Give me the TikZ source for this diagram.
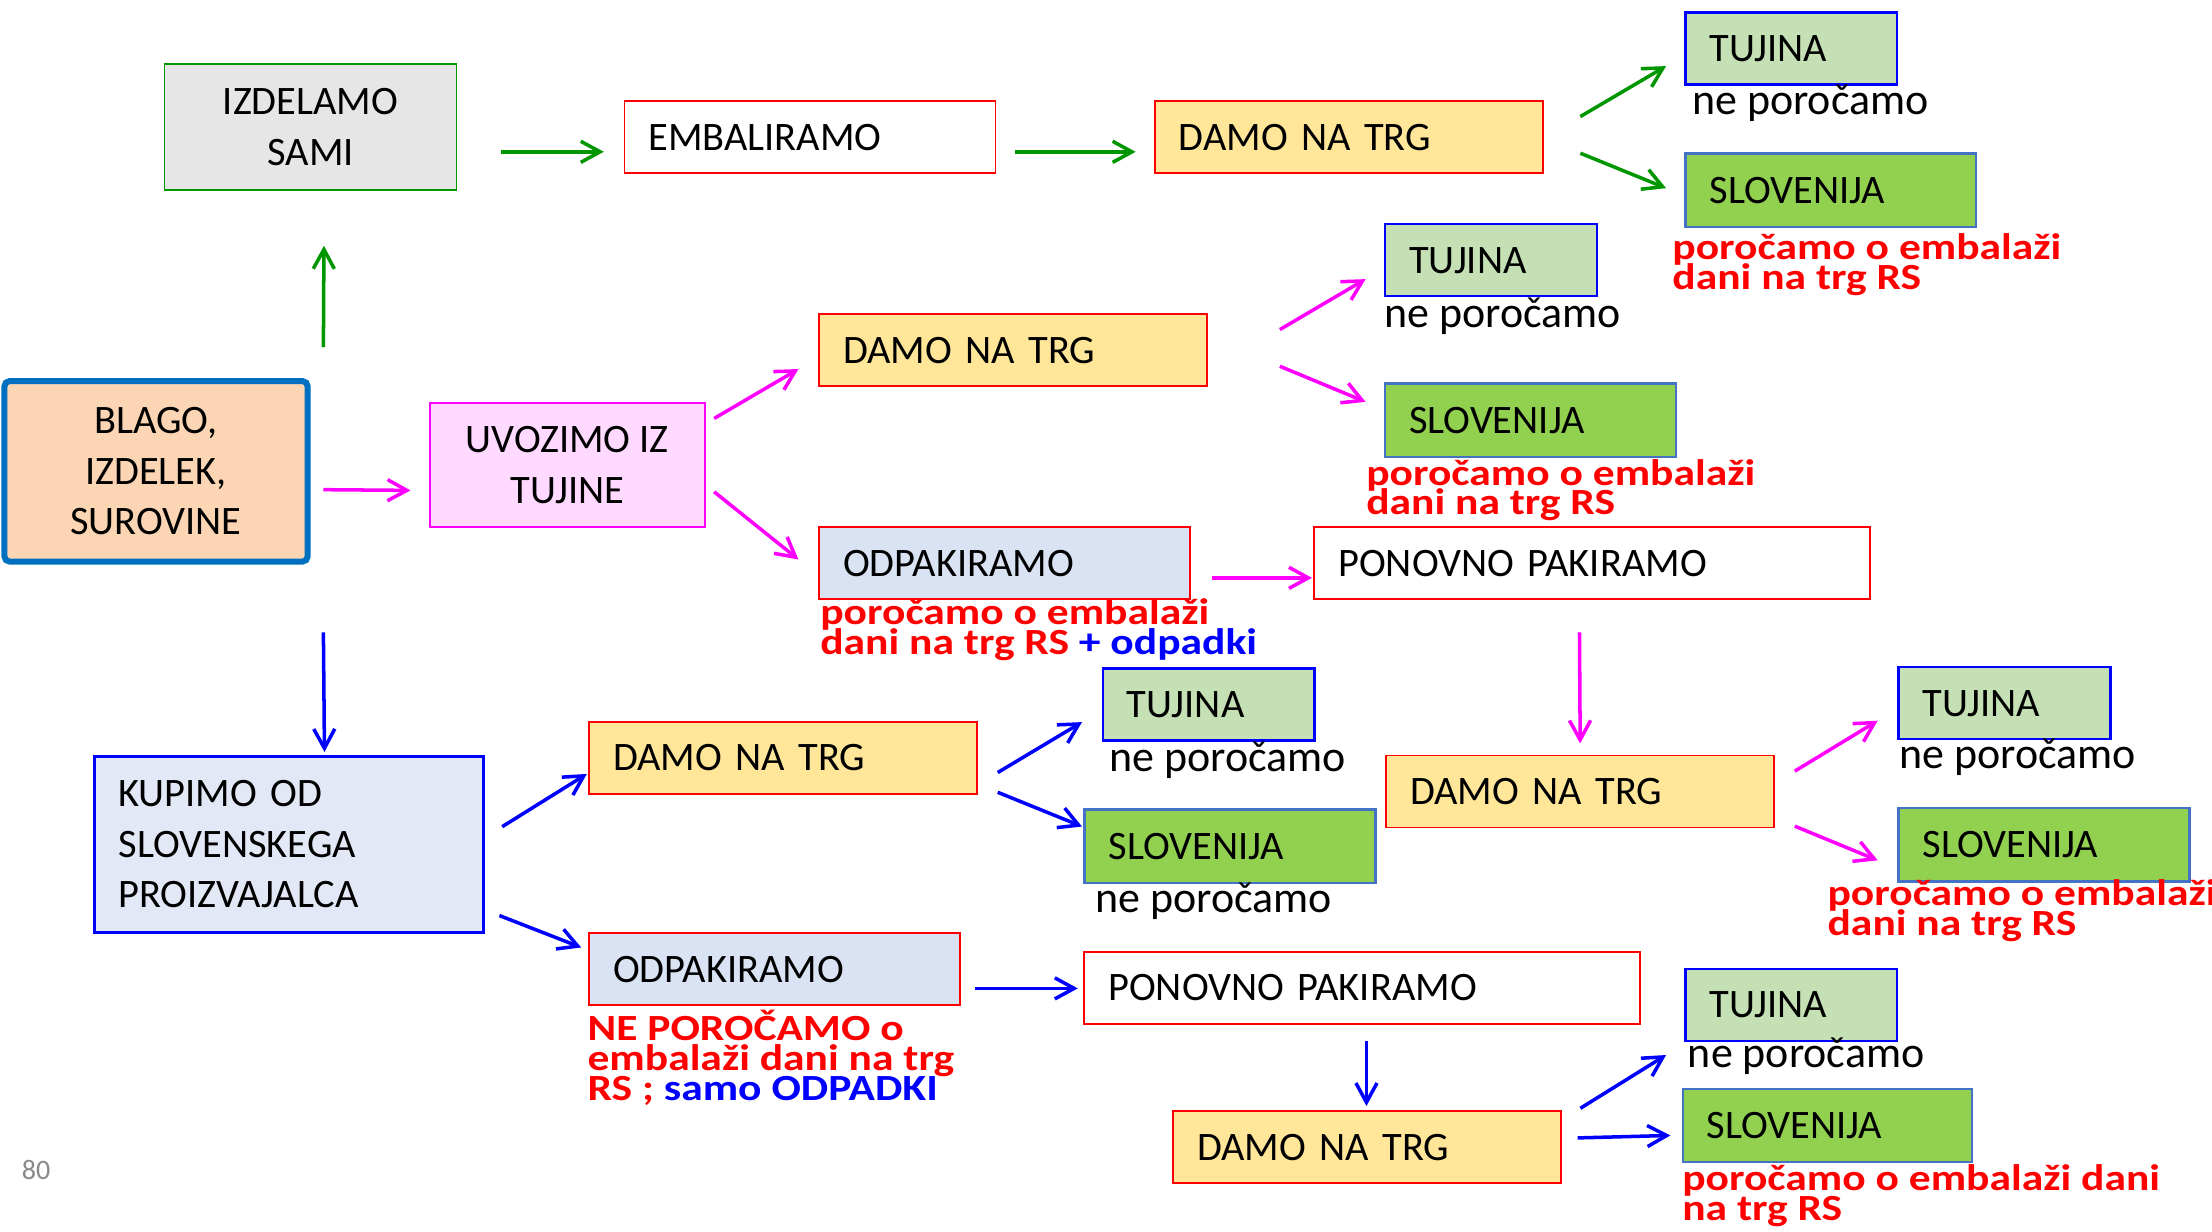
\documentclass[tikz,border=0pt]{standalone}
\usepackage{fontspec}
\setmainfont{Carlito}
\newfontfamily\repfamily[FakeStretch=1.18]{Carlito}
\usetikzlibrary{arrows.meta,calc}
\definecolor{grn}{RGB}{0,150,0}
\definecolor{mag}{RGB}{255,0,255}
\definecolor{blu}{RGB}{0,0,255}
\definecolor{trgfill}{RGB}{255,230,153}
\definecolor{tujfill}{RGB}{197,224,180}
\definecolor{slofill}{RGB}{146,208,80}
\definecolor{sloline}{RGB}{68,114,196}
\definecolor{odpfill}{RGB}{218,227,243}
\definecolor{kupfill}{RGB}{226,232,245}
\definecolor{izdfill}{RGB}{231,230,230}
\definecolor{blagofill}{RGB}{252,213,181}
\definecolor{blagoline}{RGB}{0,112,192}
\definecolor{uvozfill}{RGB}{255,217,255}
\definecolor{pgnum}{RGB}{137,137,137}
\newlength{\pxu}
\setlength{\pxu}{0.14107mm}
\newcommand{\boxfont}{\fontsize{11.5}{14.4}\selectfont}
\newcommand{\nefont}{\fontsize{12.5}{14}\selectfont}
\newcommand{\repfont}{\repfamily\bfseries\fontsize{10.5}{8.5}\selectfont\lineskiplimit=-100pt}

\begin{document}
\begin{tikzpicture}
[x=\pxu, y=-\pxu,
B/.style={draw, rectangle, anchor=north west, inner ysep=0pt, inner xsep=17\pxu, font=\boxfont, line width=0.5pt},
S/.style={B, text height=7.4pt, text depth=0pt, align=left},
trg/.style={S, draw=red, fill=trgfill, text width=241\pxu, minimum height=51\pxu},
tuj/.style={S, draw=blu, fill=tujfill, line width=0.7pt, text width=116\pxu, minimum height=51\pxu},
slo/.style={S, draw=sloline, fill=slofill, line width=0.7pt, text width=172\pxu, minimum height=52\pxu},
odp/.style={S, draw=red, fill=odpfill, text width=229\pxu, minimum height=51\pxu},
pon/.style={S, draw=red, fill=white, text width=360\pxu, minimum height=51\pxu},
ne/.style={anchor=base west, inner sep=0pt, font=\nefont},
rep/.style={anchor=base west, inner sep=0pt, align=left, font=\repfont, text=red},
arr/.style={line width=1pt, -{Straight Barb[length=5.5pt,width=6pt]}},
garr/.style={arr, grn},
marr/.style={arr, mag},
barr/.style={arr, blu}]
\useasboundingbox (0,0) rectangle (1568,873);
%%
%%%%%%%%%%%%%%%%%%
% start
%%%%%%%%%%%%%%%%%%
\node[B, draw=blagoline, fill=blagofill, line width=1.7pt, rounded corners=1.5pt, align=center, minimum width=215\pxu, minimum height=128\pxu] (blago) at (1,268) {BLAGO,\\IZDELEK,\\SUROVINE};
\node[text=pgnum, font=\fontsize{8}{9}\selectfont, anchor=base west, inner sep=0pt] (pg) at (15,836) {80};
%%
%%%%%%%%%%%%%%%%%%
% izdelamo sami
%%%%%%%%%%%%%%%%%%
\node[B, draw=grn, fill=izdfill, align=center, minimum width=207\pxu, minimum height=89\pxu] (izd) at (116,45) {IZDELAMO\\SAMI};
\node[pon, text width=229\pxu] (emb) at (442,71) {EMBALIRAMO};
\node[trg] (trg1) at (818,71) {DAMO NA TRG};
\node[tuj] (tuj1) at (1194,8) {TUJINA};
\node[ne] (n1) at (1199,81) {ne poročamo};
\node[slo] (slo1) at (1194,108) {SLOVENIJA};
\node[rep] (r1) at (1185,205) {poročamo o embalaži\\dani na trg RS};
%%
\draw[garr] ($(blago.north east)+(9,-22)$) -- ($(izd.south)+(9.5,39)$);
\draw[garr] ($(izd.east)+(31,17.5)$) -- ($(emb.west)+(-14,10.5)$);
\draw[garr] ($(emb.east)+(13,10.5)$) -- ($(trg1.west)+(-13,10.5)$);
\draw[garr] ($(trg1.east)+(26,-14.5)$) -- ($(tuj1.west)+(-13,12.5)$);
\draw[garr] ($(trg1.east)+(26,11.5)$) -- ($(slo1.west)+(-13,-1.5)$);
%%
%%%%%%%%%%%%%%%%%%
% uvozimo iz tujine
%%%%%%%%%%%%%%%%%%
\node[B, draw=mag, fill=uvozfill, align=center, minimum width=195\pxu, minimum height=88\pxu] (uvoz) at (304,285) {UVOZIMO IZ\\TUJINE};
%% na trg
\node[trg] (trg2) at (580,222) {DAMO NA TRG};
\node[tuj] (tuj2) at (981,158) {TUJINA};
\node[ne] (n2) at (981,232) {ne poročamo};
\node[slo] (slo2) at (981,271) {SLOVENIJA};
\node[rep] (r2) at (968,365) {poročamo o embalaži\\dani na trg RS};
%% odpakiramo
\node[odp] (odp1) at (580,373) {ODPAKIRAMO};
\node[rep] (r3) at (581,464) {poročamo o embalaži\\dani na trg RS {\color{blu}+ odpadki}};
\node[pon] (pon1) at (931,373) {PONOVNO PAKIRAMO};
\node[trg] (trg3) at (982,535) {DAMO NA TRG};
\node[tuj] (tuj3) at (1345,472) {TUJINA};
\node[ne] (n3) at (1346,545) {ne poročamo};
\node[slo] (slo3) at (1345,572) {SLOVENIJA};
\node[rep] (r4) at (1295,663) {poročamo o embalaži\\dani na trg RS};
%%
\draw[marr] ($(blago.east)+(9,13)$) -- ($(uvoz.west)+(-13,18)$);
\draw[marr] ($(uvoz.east)+(6,-33)$) -- ($(trg2.west)+(-14,13.5)$);
\draw[marr] ($(uvoz.east)+(6,19)$) -- ($(odp1.west)+(-14,-2.5)$);
\draw[marr] ($(trg2.east)+(51,-14.5)$) -- ($(tuj2.west)+(-13,13.5)$);
\draw[marr] ($(trg2.east)+(51,11.5)$) -- ($(slo2.west)+(-13,-13)$);
\draw[marr] ($(odp1.east)+(15,10.5)$) -- ($(pon1.west)+(-1,10.5)$);
\draw[marr] ($(pon1.south)+(-9,23)$) -- ($(trg3.north)+(0,-8)$);
\draw[marr] ($(trg3.east)+(14,-14.5)$) -- ($(tuj3.west)+(-14,12.5)$);
\draw[marr] ($(trg3.east)+(14,24.5)$) -- ($(slo3.west)+(-14,11)$);
%%
%%%%%%%%%%%%%%%%%%
% kupimo od slovenskega proizvajalca
%%%%%%%%%%%%%%%%%%
\node[B, draw=blu, fill=kupfill, line width=0.8pt, align=left, text width=242\pxu, minimum height=125\pxu] (kup) at (66,535) {KUPIMO OD\\SLOVENSKEGA\\PROIZVAJALCA};
%% na trg
\node[trg] (trg4) at (417,511) {DAMO NA TRG};
\node[tuj] (tuj4) at (781,473) {TUJINA};
\node[ne] (n4) at (786,547) {ne poročamo};
\node[slo] (slo4) at (768,573) {SLOVENIJA};
\node[ne] (n5) at (776,647) {ne poročamo};
%% odpakiramo
\node[odp] (odp2) at (417,661) {ODPAKIRAMO};
\node[rep] (r5) at (416,780) {NE POROČAMO o\\embalaži dani na trg\\RS ; {\color{blu}samo ODPADKI}};
\node[pon] (pon2) at (768,674) {PONOVNO PAKIRAMO};
\node[trg] (trg5) at (831,787) {DAMO NA TRG};
\node[tuj] (tuj5) at (1194,686) {TUJINA};
\node[ne] (n6) at (1196,757) {ne poročamo};
\node[slo, text width=171\pxu] (slo5) at (1192,771) {SLOVENIJA};
\node[rep] (r6) at (1192,865) {poročamo o embalaži dani\\na trg RS};
%%
\draw[barr] ($(blago.south east)+(9,48)$) -- ($(kup.north)+(25,-2)$);
\draw[barr] ($(kup.east)+(12,-12.5)$) -- ($(trg4.west)+(-1,11.5)$);
\draw[barr] ($(kup.east)+(10,50.5)$) -- ($(odp2.west)+(-5,-15.5)$);
\draw[barr] ($(trg4.east)+(14,10.5)$) -- ($(tuj4.west)+(-14,12.5)$);
\draw[barr] ($(trg4.east)+(14,24.5)$) -- ($(slo4.west)+(-1,-14)$);
\draw[barr] ($(odp2.east)+(10,13.5)$) -- ($(pon2.west)+(-4,0.5)$);
\draw[barr] ($(pon2.south)+(3,12)$) -- ($(trg5.north)+(-0.5,-3)$);
\draw[barr] ($(trg5.east)+(13,-27.5)$) -- ($(tuj5.west)+(-13,35.5)$);
\draw[barr] ($(trg5.east)+(11,-6.5)$) -- ($(slo5.west)+(-8,7)$);
%%
\end{tikzpicture}
\end{document}
